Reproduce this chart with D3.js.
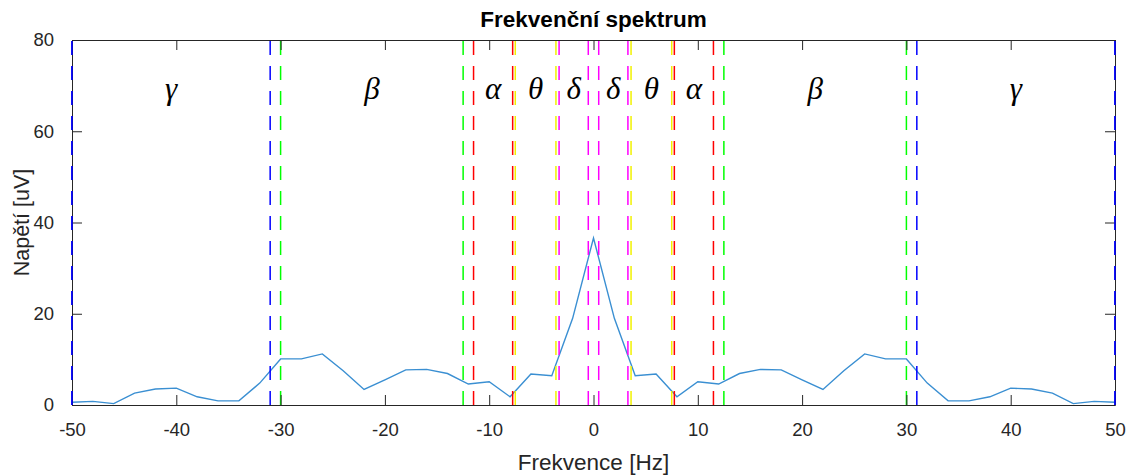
<!DOCTYPE html>
<html>
<head>
<meta charset="utf-8">
<script src="https://cdn.jsdelivr.net/npm/d3@7"></script>
<style>
  body { margin: 0; background: #fff; }
  text { font-family: "Liberation Sans", Arial, Helvetica, sans-serif; fill: #262626; }
</style>
</head>
<body>
<div id="chart"></div>
<script>
// spectrum samples (Hz, uV)
var freqs = [-50,-48,-46,-44,-42,-40,-38,-36,-34,-32,-30,-28,-26,-24,-22,-20,-18,-16,-14,-12,-10,-8,-6,-4,-2,
             0,2,4,6,8,10,12,14,16,18,20,22,24,26,28,30,32,34,36,38,40,42,44,46,48,50];
var volts = [0.6,0.8,0.3,2.6,3.5,3.7,1.8,0.9,0.9,4.8,10.1,10.1,11.2,7.5,3.4,5.5,7.7,7.8,6.9,4.6,5.1,1.8,6.8,6.4,19,
             36.6,19,6.4,6.8,1.8,5.1,4.6,6.9,7.8,7.7,5.5,3.4,7.5,11.2,10.1,10.1,4.8,0.9,0.9,1.8,3.7,3.5,2.6,0.3,0.8,0.6];

// EEG bands
var bandNames = ['δ','θ','α','β','γ'];
var bandLow = [0.5, 3.6, 7.75, 12.5, 31];
var bandHigh = [3.3, 7.5, 11.5, 30, 50];
var bandColors = ['#ff00ff','#f2f200','#ff0000','#00ff00','#0000ff'];

var xTicks = [-50,-40,-30,-20,-10,0,10,20,30,40,50];
var yTicks = [0,20,40,60,80];
var labelLevel = 67;

var W = 1134, H = 475;
var m = {left: 72, top: 40, right: 19, bottom: 70};
var pw = W - m.left - m.right, ph = H - m.top - m.bottom;

var svg = d3.select('#chart').append('svg')
  .attr('width', W).attr('height', H);

var x = d3.scaleLinear().domain([-50, 50]).range([0, pw]);
var y = d3.scaleLinear().domain([0, 80]).range([ph, 0]);

var g = svg.append('g').attr('transform', 'translate(' + m.left + ',' + m.top + ')');

// spectrum line
var pts = freqs.map(function(f, i) { return [f, volts[i]]; });
g.append('path')
  .datum(pts)
  .attr('fill', 'none')
  .attr('stroke', '#3a8fd2')
  .attr('stroke-width', 1.4)
  .attr('d', d3.line().x(function(d) { return x(d[0]); }).y(function(d) { return y(d[1]); }));

// band boundaries, both sides
var edges = [];
bandNames.forEach(function(b, i) {
  [bandLow[i], bandHigh[i]].forEach(function(v) {
    edges.push({f: -v, c: bandColors[i]});
    edges.push({f: v, c: bandColors[i]});
  });
});
g.selectAll('.edge').data(edges).enter().append('line')
  .attr('class', 'edge')
  .attr('x1', function(d) { return x(d.f); })
  .attr('x2', function(d) { return x(d.f); })
  .attr('y1', y(0)).attr('y2', y(80))
  .attr('stroke', function(d) { return d.c; })
  .attr('stroke-width', 1.5)
  .attr('stroke-dasharray', '14,11');

// greek labels in band centres
var labels = [];
bandNames.forEach(function(b, i) {
  var c = (bandLow[i] + bandHigh[i]) / 2;
  labels.push({t: b, f: -c});
  labels.push({t: b, f: c});
});
g.selectAll('.band').data(labels).enter().append('text')
  .attr('class', 'band')
  .attr('x', function(d) { return x(d.f); })
  .attr('y', y(labelLevel))
  .attr('text-anchor', 'middle')
  .attr('style', 'font-family:"Liberation Serif","Times New Roman",serif;font-style:italic;font-size:31px;fill:#000')
  .text(function(d) { return d.t; });

// axes box with inward ticks, plain hyphen minus like matlab
var fmt = function(d) { return String(d); };
var tl = 10;
g.append('g').attr('transform', 'translate(0,' + ph + ')')
  .call(d3.axisBottom(x).tickValues(xTicks).tickFormat(fmt).tickSizeInner(-tl).tickSizeOuter(0).tickPadding(tl + 8));
g.append('g')
  .call(d3.axisTop(x).tickValues(xTicks).tickSizeInner(-tl).tickSizeOuter(0).tickFormat(''));
g.append('g')
  .call(d3.axisLeft(y).tickValues(yTicks).tickFormat(fmt).tickSizeInner(-tl).tickSizeOuter(0).tickPadding(tl + 8));
g.append('g').attr('transform', 'translate(' + pw + ',0)')
  .call(d3.axisRight(y).tickValues(yTicks).tickSizeInner(-tl).tickSizeOuter(0).tickFormat(''));

g.selectAll('.domain').attr('stroke', '#262626');
g.selectAll('.tick line').attr('stroke', '#262626');
g.selectAll('.tick text').attr('style', 'font-size:18.5px;fill:#262626');

// redraw the outer blue edges on top of the box
g.selectAll('.edge2').data(edges.filter(function(d) { return Math.abs(d.f) == 50; })).enter().append('line')
  .attr('x1', function(d) { return x(d.f); })
  .attr('x2', function(d) { return x(d.f); })
  .attr('y1', y(0)).attr('y2', y(80))
  .attr('stroke', function(d) { return d.c; })
  .attr('stroke-width', 1.5)
  .attr('stroke-dasharray', '14,11');

svg.append('text')
  .attr('x', m.left + pw / 2).attr('y', 27)
  .attr('text-anchor', 'middle')
  .attr('style', 'font-size:22.5px;font-weight:bold;fill:#000')
  .text('Frekvenční spektrum');

svg.append('text')
  .attr('x', m.left + pw / 2).attr('y', 470)
  .attr('text-anchor', 'middle')
  .attr('style', 'font-size:22.5px')
  .text('Frekvence [Hz]');

svg.append('text')
  .attr('transform', 'translate(29,' + (m.top + ph / 2) + ') rotate(-90)')
  .attr('text-anchor', 'middle')
  .attr('style', 'font-size:21.5px')
  .text('Napětí [uV]');
</script>
</body>
</html>
